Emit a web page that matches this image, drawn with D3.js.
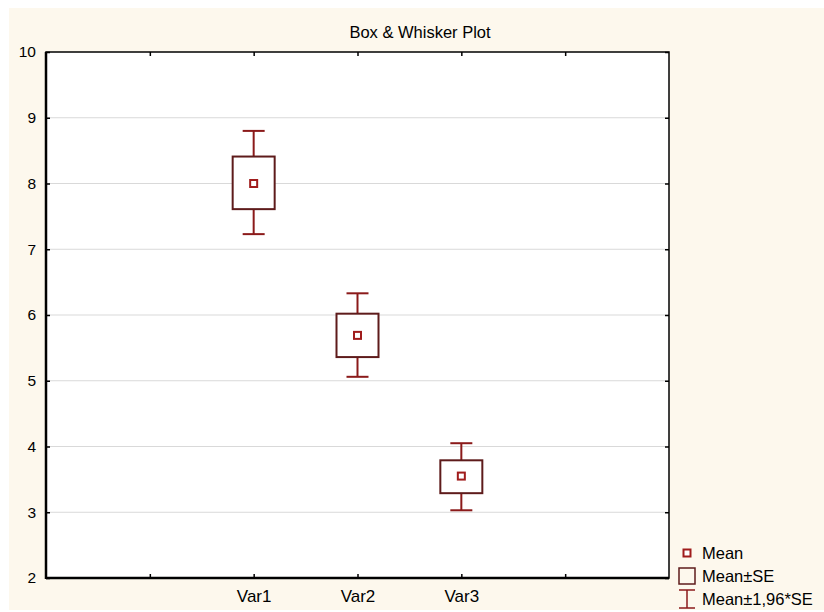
<!DOCTYPE html>
<html>
<head>
<meta charset="utf-8">
<script src="https://cdn.jsdelivr.net/npm/d3@7"></script>
<style>
  body { margin: 0; background: #fff; }
  svg { display: block; font-family: "Liberation Sans", Arial, sans-serif; }
</style>
</head>
<body>
<svg id="chart" width="824" height="612"></svg>
<script>
// values
const categories = ['Var1', 'Var2', 'Var3'];
const catPos = [2, 3, 4];
const means = [8.00, 5.69, 3.55];
const seLow = [7.61, 5.36, 3.29];
const seHigh = [8.41, 6.02, 3.79];
const ciLow = [7.23, 5.06, 3.03];
const ciHigh = [8.80, 6.33, 4.05];
const yTicks = [2, 3, 4, 5, 6, 7, 8, 9, 10];
const xTicks = [1, 2, 3, 4, 5];
const legendLabels = ['Mean', 'Mean±SE', 'Mean±1,96*SE'];

const width = 824, height = 612;
const margin = { top: 52, right: 155, bottom: 34, left: 46 };

const boxColor = '#5e1b1b';
const whiskColor = '#8b1a1a';
const meanColor = '#a01c1c';

const svg = d3.select('#chart');

svg.append('rect')
  .attr('x', 9).attr('y', 8)
  .attr('width', width - 9).attr('height', height - 10)
  .attr('fill', '#fdf8ed');

const x = d3.scaleLinear()
  .domain([0, 6])
  .range([margin.left, width - margin.right]);

const y = d3.scaleLinear()
  .domain([2, 10])
  .range([height - margin.bottom, margin.top]);

svg.append('rect')
  .attr('x', x(0)).attr('y', y(10))
  .attr('width', x(6) - x(0)).attr('height', y(2) - y(10))
  .attr('fill', '#fff');

// grid
svg.append('g')
  .selectAll('line')
  .data(yTicks.slice(1, -1))
  .enter()
  .append('line')
  .attr('x1', x(0)).attr('x2', x(6))
  .attr('y1', d => y(d)).attr('y2', d => y(d))
  .attr('stroke', '#d9d9d9')
  .attr('stroke-width', 1);

svg.append('text')
  .attr('x', 420).attr('y', 38)
  .attr('text-anchor', 'middle')
  .attr('font-size', 16.5)
  .text('Box & Whisker Plot');

// axes
const yAxis = svg.append('g')
  .attr('transform', `translate(${x(0)},0)`)
  .call(d3.axisLeft(y).tickValues(yTicks).tickSize(-4).tickPadding(10));
yAxis.selectAll('text').attr('font-size', 15.5).attr('fill', '#000');

const yAxisR = svg.append('g')
  .attr('transform', `translate(${x(6)},0)`)
  .call(d3.axisRight(y).tickValues(yTicks).tickSize(-4).tickFormat(''));

const xAxis = svg.append('g')
  .attr('transform', `translate(0,${y(2)})`)
  .call(d3.axisBottom(x).tickValues(xTicks).tickSize(-4).tickPadding(12)
    .tickFormat(d => { const i = catPos.indexOf(d); return i >= 0 ? categories[i] : ''; }));
xAxis.selectAll('text').attr('font-size', 17).attr('fill', '#000');

const xAxisT = svg.append('g')
  .attr('transform', `translate(0,${y(10)})`)
  .call(d3.axisTop(x).tickValues(xTicks).tickSize(-4).tickFormat(''));

[yAxis, yAxisR, xAxis, xAxisT].forEach(a => {
  a.select('.domain').remove();
  a.selectAll('line').attr('stroke', '#000').attr('stroke-width', 1.5);
});

svg.append('rect')
  .attr('x', x(0)).attr('y', y(10))
  .attr('width', x(6) - x(0)).attr('height', y(2) - y(10))
  .attr('fill', 'none')
  .attr('stroke', '#000')
  .attr('stroke-width', 1.5);
svg.append('line')
  .attr('x1', x(0)).attr('x2', x(0)).attr('y1', y(10)).attr('y2', y(2) + 1)
  .attr('stroke', '#000').attr('stroke-width', 2.5);
svg.append('line')
  .attr('x1', x(0)).attr('x2', x(6)).attr('y1', y(2)).attr('y2', y(2))
  .attr('stroke', '#000').attr('stroke-width', 2.5);

// marks
const boxW = 42, capW = 22, meanS = 7;
const groups = svg.selectAll('.bw')
  .data(categories.map((c, i) => ({ c, i })))
  .enter()
  .append('g')
  .attr('class', 'bw');

groups.append('line')
  .attr('x1', d => x(catPos[d.i])).attr('x2', d => x(catPos[d.i]))
  .attr('y1', d => y(ciHigh[d.i])).attr('y2', d => y(seHigh[d.i]))
  .attr('stroke', whiskColor).attr('stroke-width', 2);
groups.append('line')
  .attr('x1', d => x(catPos[d.i])).attr('x2', d => x(catPos[d.i]))
  .attr('y1', d => y(seLow[d.i])).attr('y2', d => y(ciLow[d.i]))
  .attr('stroke', whiskColor).attr('stroke-width', 2);
groups.append('line')
  .attr('x1', d => x(catPos[d.i]) - capW / 2).attr('x2', d => x(catPos[d.i]) + capW / 2)
  .attr('y1', d => y(ciHigh[d.i])).attr('y2', d => y(ciHigh[d.i]))
  .attr('stroke', whiskColor).attr('stroke-width', 2);
groups.append('line')
  .attr('x1', d => x(catPos[d.i]) - capW / 2).attr('x2', d => x(catPos[d.i]) + capW / 2)
  .attr('y1', d => y(ciLow[d.i])).attr('y2', d => y(ciLow[d.i]))
  .attr('stroke', whiskColor).attr('stroke-width', 2);
groups.append('rect')
  .attr('x', d => x(catPos[d.i]) - boxW / 2)
  .attr('y', d => y(seHigh[d.i]))
  .attr('width', boxW)
  .attr('height', d => y(seLow[d.i]) - y(seHigh[d.i]))
  .attr('fill', '#fff')
  .attr('stroke', boxColor).attr('stroke-width', 2);
groups.append('rect')
  .attr('x', d => x(catPos[d.i]) - meanS / 2)
  .attr('y', d => y(means[d.i]) - meanS / 2)
  .attr('width', meanS).attr('height', meanS)
  .attr('fill', '#fff')
  .attr('stroke', meanColor).attr('stroke-width', 2);

// legend
const lg = svg.append('g');
const lx = 687, ly = [553, 576, 599];
lg.append('rect')
  .attr('x', lx - 3.5).attr('y', ly[0] - 3.5).attr('width', 7).attr('height', 7)
  .attr('fill', '#fff').attr('stroke', meanColor).attr('stroke-width', 2);
lg.append('rect')
  .attr('x', lx - 8).attr('y', ly[1] - 8).attr('width', 16).attr('height', 16)
  .attr('fill', 'none').attr('stroke', boxColor).attr('stroke-width', 1.5);
lg.append('line')
  .attr('x1', lx).attr('x2', lx).attr('y1', ly[2] - 9).attr('y2', ly[2] + 9)
  .attr('stroke', whiskColor).attr('stroke-width', 1.5);
lg.append('line')
  .attr('x1', lx - 8).attr('x2', lx + 8).attr('y1', ly[2] - 9).attr('y2', ly[2] - 9)
  .attr('stroke', whiskColor).attr('stroke-width', 1.5);
lg.append('line')
  .attr('x1', lx - 8).attr('x2', lx + 8).attr('y1', ly[2] + 9).attr('y2', ly[2] + 9)
  .attr('stroke', whiskColor).attr('stroke-width', 1.5);
lg.selectAll('text')
  .data(legendLabels)
  .enter()
  .append('text')
  .attr('x', 702)
  .attr('y', (d, i) => ly[i] + 6)
  .attr('font-size', 16.5)
  .text(d => d);
</script>
</body>
</html>
